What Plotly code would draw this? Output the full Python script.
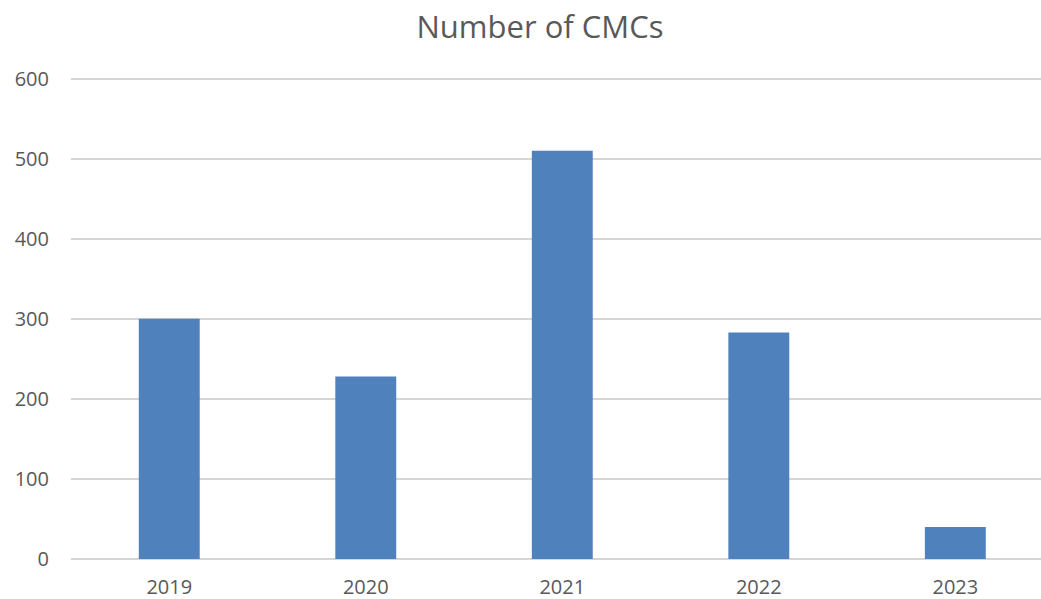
import plotly.graph_objects as go

years = ["2019", "2020", "2021", "2022", "2023"]
counts = [300, 228, 510, 283, 40]
y_ticks = [0, 100, 200, 300, 400, 500, 600]

TXT = "#595959"
FONT = "Open Sans"

fig = go.Figure(go.Bar(x=years, y=counts, marker=dict(color="#4F81BD", line=dict(width=0))))

fig.update_layout(
    width=1041, height=599,
    paper_bgcolor="white", plot_bgcolor="white",
    margin=dict(l=71, r=0, t=77, b=40),
    bargap=0.69,
    showlegend=False,
    title=dict(text="Number of CMCs", x=540/1041, xanchor="center", y=1 - 27/599, yanchor="middle",
               font=dict(family=FONT, size=31, color=TXT)),
    font=dict(family=FONT, color=TXT),
)
fig.update_xaxes(
    type="category", range=[-0.5, 4.436],
    showgrid=False, showline=False, zeroline=False,
    ticks="outside", ticklen=0, tickcolor="rgba(0,0,0,0)",
    ticklabelstandoff=10,
    tickfont=dict(family=FONT, size=20, color=TXT),
)
fig.update_yaxes(
    range=[0, 602], tickvals=y_ticks,
    showgrid=True, gridcolor="#D6D6D6", gridwidth=1.5,
    zeroline=True, zerolinecolor="#D6D6D6", zerolinewidth=1.5,
    showline=False, ticks="", ticklabelstandoff=21,
    tickfont=dict(family=FONT, size=20, color=TXT),
)

fig.write_html("out.html", config={"displayModeBar": False},
               post_script="document.body.style.margin='0';document.body.style.overflow='hidden';")
